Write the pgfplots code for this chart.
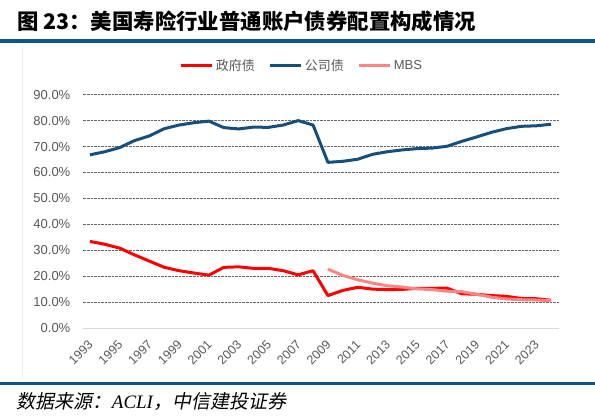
\documentclass[border=0pt]{standalone}
\usepackage{pgfplots}
\pgfplotsset{compat=1.18}
\usepackage{fontspec}
\setmainfont{Liberation Sans}
\newfontfamily\cjk{Noto Sans CJK SC}
\newfontfamily\cjkit[FakeSlant=0.2]{Noto Sans CJK SC}
\newfontfamily\serifit{Liberation Serif}
\definecolor{cred}{RGB}{255,0,0}
\definecolor{cblue}{RGB}{22,79,124}
\definecolor{cpink}{RGB}{255,133,133}
\definecolor{crule}{RGB}{16,82,132}
\definecolor{tickgray}{RGB}{89,89,89}
\pgfplotstableread{
year val
1993 33.4
1994 32.3
1995 30.8
1996 28.2
1997 25.8
1998 23.4
1999 22.1
2000 21.2
2001 20.4
2002 23.4
2003 23.6
2004 23.0
2005 23.0
2006 22.1
2007 20.5
2008 22.1
2009 12.5
2010 14.5
2011 15.7
2012 15.0
2013 14.8
2014 14.9
2015 15.3
2016 15.3
2017 15.4
2018 13.2
2019 13.0
2020 12.5
2021 12.2
2022 11.4
2023 11.3
2024 10.7
}\govt
\pgfplotstableread{
year val
1993 66.8
1994 68.0
1995 69.6
1996 72.3
1997 74.1
1998 76.9
1999 78.3
2000 79.2
2001 79.8
2002 77.3
2003 76.8
2004 77.5
2005 77.4
2006 78.3
2007 80.0
2008 78.3
2009 63.9
2010 64.3
2011 65.1
2012 67.0
2013 68.0
2014 68.7
2015 69.2
2016 69.4
2017 70.1
2018 72.0
2019 73.7
2020 75.5
2021 76.9
2022 77.8
2023 78.0
2024 78.6
}\corp
\pgfplotstableread{
year val
2009 22.7
2010 20.3
2011 18.6
2012 17.3
2013 16.3
2014 15.8
2015 15.1
2016 14.8
2017 14.2
2018 14.0
2019 13.0
2020 11.9
2021 11.2
2022 10.9
2023 10.8
2024 10.5
}\mbs
\begin{document}
\begin{tikzpicture}
\path[use as bounding box, fill=white] (0,0) rectangle (595bp,420bp);
\node[anchor=west, inner sep=0pt] at (17bp,399bp) {\fontsize{21.4bp}{25bp}\cjk\bfseries 图 23：美国寿险行业普通账户债券配置构成情况};
\draw[crule, line width=3.4bp] (0,379bp) -- (595bp,379bp);
\draw[crule, line width=2.8bp] (0,36.7bp) -- (595bp,36.7bp);
\draw[black!7, line width=0.8bp] (22.7bp,375bp) -- (22.7bp,42bp);
\node[anchor=west, inner sep=0pt] at (16.7bp,18.3bp) {\fontsize{19bp}{22bp}\cjkit 数据来源：{\serifit\itshape ACLI}，中信建投证券};
\begin{axis}[
  scale only axis, width=476bp, height=233.3bp,
  at={(82.5bp,92bp)}, anchor=south west,
  xmin=1992.5, xmax=2024.5, ymin=0, ymax=90,
  axis line style={draw=none},
  ytick={10,20,...,90},
  extra y ticks={0}, extra y tick labels={0.0\%},
  extra y tick style={grid style={solid, black!15, line width=0.9bp}},
  ymajorgrids,
  grid style={densely dotted, black!60, line width=0.5bp},
  major tick length=0pt,
  xtick={1993,1995,...,2023},
  /pgf/number format/assume math mode=true,
  /pgf/number format/1000 sep={},
  yticklabel={\pgfmathprintnumber[fixed,fixed zerofill,precision=1]{\tick}\%},
  yticklabel style={font=\fontsize{13bp}{15bp}\selectfont, text=tickgray, anchor=east, inner sep=0pt, xshift=-12bp},
  xticklabel style={font=\fontsize{12.5bp}{14bp}\selectfont, text=tickgray, inner sep=0pt, xshift=-2.5bp, yshift=-11.5bp, rotate=45, anchor=north east},
  legend style={at={(axis description cs:0.461,1.124)}, anchor=center, draw=none, fill=none,
    font=\fontsize{13bp}{15bp}\selectfont, text=tickgray, legend columns=3,
    /tikz/every even column/.append style={column sep=12bp}, inner sep=0pt},
  legend image code/.code={\draw[#1, line width=3bp] (0bp,0bp) -- (31bp,0bp);},
  line join=round,
]
\addplot[cred, line width=3bp, no markers] table[x=year,y=val] {\govt};
\addlegendentry{\cjk 政府债}
\addplot[cblue, line width=3bp, no markers] table[x=year,y=val] {\corp};
\addlegendentry{\cjk 公司债}
\addplot[cpink, line width=3bp, no markers] table[x=year,y=val] {\mbs};
\addlegendentry{MBS}
\end{axis}
\end{tikzpicture}
\end{document}
